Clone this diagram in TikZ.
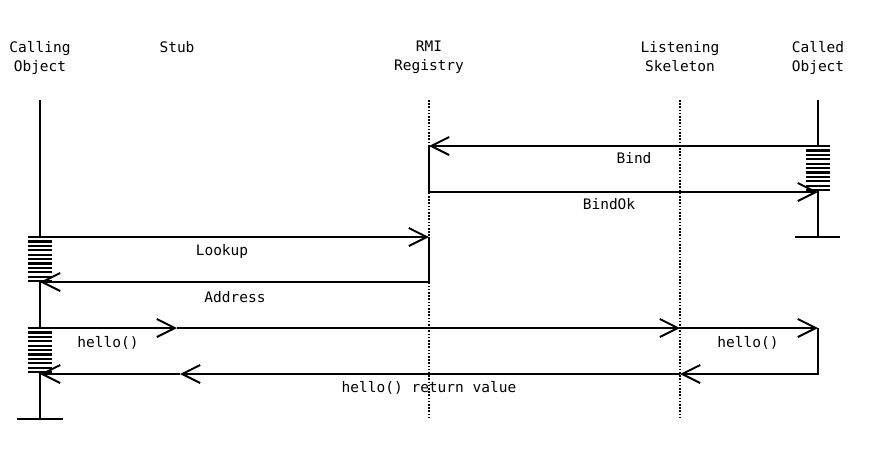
\documentclass[tikz,border=0pt]{standalone}
\usepackage{fontspec}
\setmonofont{DejaVu Sans Mono}
\usetikzlibrary{arrows.meta}

\begin{document}
\begin{tikzpicture}[x=1pt, y=-1pt,
  life/.style={line width=2pt},
  dotline/.style={line width=1.8pt, dash pattern=on 1.6pt off 1.6pt},
  msg/.style={line width=2pt, -{Straight Barb[length=18pt, width=18pt, line width=2pt]}},
  stripe/.style={line width=2.2pt},
  lbl/.style={font=\ttfamily\fontsize{14.5}{19}\selectfont, inner sep=0pt},
  hdr/.style={lbl, align=center, anchor=north}]

\useasboundingbox (0,0) rectangle (871,453);

% Headers
\node [hdr] (hCall) at (40,41) {Calling\\Object};
\node [hdr] (hStub) at (177,41) {Stub};
\node [hdr] (hReg) at (429,41) {RMI\\Registry};
\node [hdr] (hSkel) at (680,41) {Listening\\Skeleton};
\node [hdr] (hObj) at (818,41) {Called\\Object};

% Lifelines
\coordinate (callL) at (40,100);
\coordinate (stubL) at (177,100);
\coordinate (regL) at (429,100);
\coordinate (skelL) at (680,100);
\coordinate (objL) at (818,100);
\coordinate (callE) at (40,419);
\coordinate (objE) at (818,237);

% Message levels
\coordinate (yBind) at (0,146);
\coordinate (yBindOk) at (0,192);
\coordinate (yLookup) at (0,237);
\coordinate (yAddr) at (0,282);
\coordinate (yHello) at (0,328);
\coordinate (yRet) at (0,374);

\draw [dotline] (regL) -- (429,417);
\draw [dotline] (skelL) -- (680,417);
\draw [life] (callL) -- (callE);
\draw [life] (17,419) -- (63,419);
\draw [life] (objL) -- (objE);
\draw [life] (795,237) -- (840,237);

% Activations
\foreach \x/\t in {40/237, 40/328, 818/146} {
  \fill [white] (\x-12,\t) rectangle (\x+12,\t+44);
  \foreach \d in {0,4.4,...,44}
    \draw [stripe] (\x-12,\t+\d) -- (\x+12,\t+\d);
}

% Messages
\draw [msg] (objL |- yBind) -- (regL |- yBind);
\draw [msg] (regL |- yBind) -- (regL |- yBindOk) -- (objL |- yBindOk);
\draw [msg] (callL |- yLookup) -- (regL |- yLookup);
\draw [msg] (regL |- yLookup) -- (regL |- yAddr) -- (callL |- yAddr);
\draw [msg] (callL |- yHello) -- (stubL |- yHello);
\draw [msg] (stubL |- yHello) -- (skelL |- yHello);
\draw [msg] (skelL |- yHello) -- (objL |- yHello);
\draw [msg] (objL |- yHello) -- (objL |- yRet) -- (skelL |- yRet);
\draw [msg] (skelL |- yRet) -- (180,374);
\draw [msg] (180,374) -- (callL |- yRet);

% Labels
\node [lbl] (lBind) at (634,158) {Bind};
\node [lbl] (lBindOk) at (609,204) {BindOk};
\node [lbl] (lLookup) at (222,251) {Lookup};
\node [lbl] (lAddr) at (235,297) {Address};
\node [lbl] (lHello) at (108,343) {hello()};
\node [lbl] (lHelloR) at (748,343) {hello()};
\node [lbl] (lRet) at (429,388) {hello() return value};

\end{tikzpicture}
\end{document}
